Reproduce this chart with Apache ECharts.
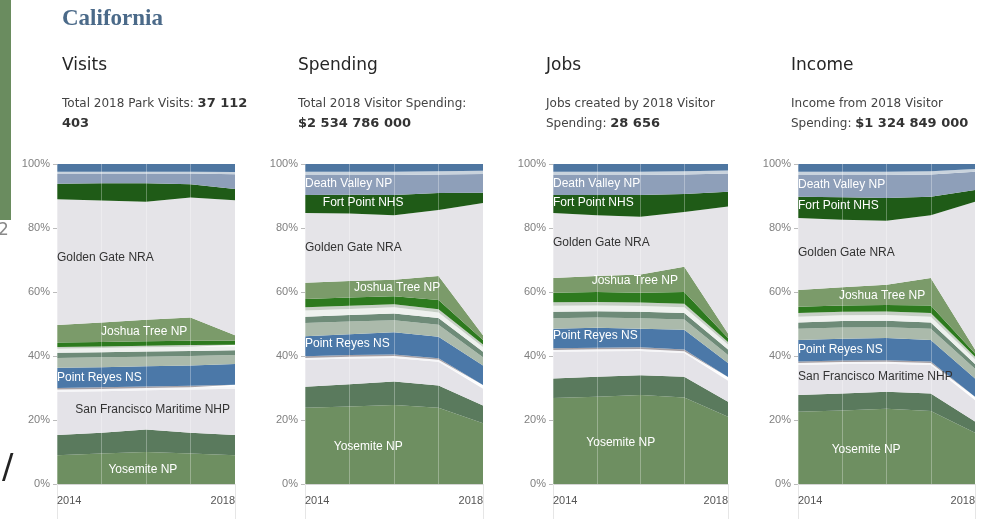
<!DOCTYPE html>
<html><head><meta charset="utf-8">
<script src="https://cdn.jsdelivr.net/npm/echarts@6/dist/echarts.min.js"></script>
<style>html,body{margin:0;padding:0;background:#fff}#c{width:999px;height:519px}</style>
</head><body><div id="c"></div>
<script>
// ---------- DATA ----------
const years = ['2014', '2015', '2016', '2017', '2018'];
const yTickStep = 20;
const parks = ['Yosemite NP', 'Sequoia & Kings Canyon NPs', 'San Francisco Maritime NHP', 'Muir Woods NM',
  'Cabrillo NM', 'Point Reyes NS', 'Redwood NSP', 'Channel Islands NP', 'Pinnacles NP', 'Lassen Volcanic NP',
  'Lava Beds NM', 'Joshua Tree NP', 'Golden Gate NRA', 'Fort Point NHS', 'Death Valley NP',
  'Whiskeytown NRA', 'Other parks'];
// shares (%) per park, per year — order as in `parks`
const visitsShares = [
  [9, 9.5, 10, 9.5, 9], [6.3, 6.5, 7, 6.5, 6.3], [13.5, 13, 12.3, 13.5, 14.5], [0.7, 0.7, 0.7, 0.7, 0.7],
  [0.5, 0.5, 0.5, 0.5, 0.5], [6.3, 6.3, 6.3, 6.3, 6.5], [3.1, 3.1, 3.0, 3.0, 2.8], [1.6, 1.6, 1.6, 1.6, 1.5],
  [1.3, 1.3, 1.3, 1.3, 1.2], [0.5, 0.5, 0.5, 0.5, 0.5], [1.4, 1.4, 1.4, 1.4, 1.3], [5.5, 6.1, 6.7, 7.2, 1.7],
  [39.3, 38.1, 36.9, 37.5, 42.2], [4.8, 5.4, 5.8, 4.2, 3.5], [3.2, 3.0, 3.0, 3.3, 4.6], [0.6, 0.6, 0.6, 0.6, 0.7],
  [2.4, 2.4, 2.4, 2.4, 2.5]
];
const spendingShares = [
  [23.8, 24.2, 24.7, 23.8, 19], [6.6, 7.0, 7.3, 7.0, 5.5], [8.4, 8.0, 7.4, 7.4, 5.3], [0.6, 0.6, 0.6, 0.6, 0.6],
  [0.5, 0.5, 0.5, 0.5, 0.5], [6.3, 6.5, 6.9, 6.7, 6.1], [4.1, 4.0, 3.8, 3.8, 2.6], [2.0, 2.0, 2.1, 2.1, 1.7],
  [1.9, 1.9, 1.9, 1.7, 1.5], [1.0, 1.0, 1.0, 1.0, 0.8], [2.6, 2.6, 2.5, 2.9, 1.4], [5.1, 5.1, 5.1, 7.5, 1.5],
  [21.8, 21.1, 20.2, 20.6, 41.3], [5.6, 5.9, 6.3, 5.3, 3.2], [6.3, 6.2, 6.3, 5.8, 5.9], [1.0, 1.0, 1.0, 1.0, 1.0],
  [2.4, 2.4, 2.4, 2.3, 2.1]
];
const jobsShares = [
  [26.9, 27.3, 27.8, 27, 21], [6.1, 6.2, 6.2, 6.5, 4.7], [8.3, 8.0, 7.6, 7.4, 6.6], [0.6, 0.6, 0.6, 0.6, 0.6],
  [0.5, 0.5, 0.5, 0.5, 0.5], [6.1, 6.2, 5.8, 6.2, 4.4], [3.3, 3.2, 3.3, 3.2, 2.5], [2.0, 2.0, 2.0, 2.0, 1.7],
  [1.9, 1.8, 1.8, 1.8, 1.6], [1.1, 1.1, 1.1, 1.1, 0.8], [3.0, 3.1, 3.1, 3.7, 1.2], [4.6, 5.0, 5.7, 7.9, 1.4],
  [20.3, 19.0, 18.0, 17.1, 39.7], [5.6, 6.3, 6.8, 5.6, 4.6], [6.3, 6.3, 6.3, 6.1, 5.7], [1.0, 1.0, 1.0, 1.0, 1.0],
  [2.4, 2.4, 2.4, 2.3, 2.0]
];
const incomeShares = [
  [22.6, 23, 23.5, 22.8, 16], [5.2, 5.3, 5.3, 5.5, 3.5], [9.4, 9.2, 8.8, 8.9, 6.7], [0.6, 0.6, 0.6, 0.6, 0.6],
  [0.5, 0.5, 0.5, 0.5, 0.5], [6.7, 6.8, 6.9, 6.7, 5.7], [3.5, 3.5, 3.4, 3.5, 3.0], [2.0, 2.0, 2.0, 2.0, 1.5],
  [1.8, 1.8, 1.8, 1.8, 1.5], [1.1, 1.1, 1.1, 1.1, 0.8], [2.0, 2.0, 2.0, 2.4, 1.0], [5.2, 5.7, 6.4, 8.6, 1.2],
  [22.5, 21.1, 20.0, 19.6, 46.2], [6.7, 7.0, 7.1, 5.8, 3.7], [6.8, 7.0, 7.2, 6.9, 5.7], [1.0, 1.0, 1.0, 1.0, 0.8],
  [2.4, 2.4, 2.4, 2.3, 1.6]
];
const panelTitles = ['Visits', 'Spending', 'Jobs', 'Income'];
const panelSubs = [
  '{n|Total 2018 Park Visits: }{b|37 112}\n{b|403}',
  '{n|Total 2018 Visitor Spending:}\n{b|$2 534 786 000}',
  '{n|Jobs created by 2018 Visitor}\n{n|Spending: }{b|28 656}',
  '{n|Income from 2018 Visitor}\n{n|Spending: }{b|$1 324 849 000}'
];

// ---------- STYLE / LAYOUT ----------
const parkColors = ['#6e8f61', '#5a7a5d', '#e4e3e8', '#f6f6f8', '#a7a1a5', '#4b78a8', '#abbaab', '#6e8b78',
  '#eef1ee', '#c6cfc5', '#2d7a1e', '#7b9b6a', '#e5e4e8', '#1f5b17', '#8e9fb9', '#c9d3dd', '#4e76a1'];
const gridPos = [{left: 57, width: 178}, {left: 305, width: 178}, {left: 553, width: 175}, {left: 798, width: 177}];
const textX = [62, 298, 546, 791];
// in-chart labels: [text, x position (year index), y position (%), align, color]
const labelLayout = [
  [['Golden Gate NRA', 0, 70.6, 'left', '#333'], ['Joshua Tree NP', 1.96, 47.6, 'center', '#fff'],
   ['Point Reyes NS', 0, 33.1, 'left', '#fff'], ['San Francisco Maritime NHP', 2.15, 23.1, 'center', '#333'],
   ['Yosemite NP', 1.93, 4.4, 'center', '#fff']],
  [['Death Valley NP', 0, 93.7, 'left', '#fff'], ['Fort Point NHS', 0.4, 87.8, 'left', '#fff'],
   ['Golden Gate NRA', 0, 74, 'left', '#333'], ['Joshua Tree NP', 2.07, 61.2, 'center', '#fff'],
   ['Point Reyes NS', 0, 44, 'left', '#fff'], ['Yosemite NP', 1.42, 11.6, 'center', '#fff']],
  [['Death Valley NP', 0, 93.7, 'left', '#fff'], ['Fort Point NHS', 0, 87.8, 'left', '#fff'],
   ['Golden Gate NRA', 0, 75.3, 'left', '#333'], ['Joshua Tree NP', 1.87, 63.4, 'center', '#fff'],
   ['Point Reyes NS', 0, 46.2, 'left', '#fff'], ['Yosemite NP', 1.55, 12.8, 'center', '#fff']],
  [['Death Valley NP', 0, 93.4, 'left', '#fff'], ['Fort Point NHS', 0, 86.9, 'left', '#fff'],
   ['Golden Gate NRA', 0, 72.2, 'left', '#333'], ['Joshua Tree NP', 1.9, 59, 'center', '#fff'],
   ['Point Reyes NS', 0, 41.9, 'left', '#fff'], ['San Francisco Maritime NHP', 0, 33.4, 'left', '#333'],
   ['Yosemite NP', 1.54, 10.6, 'center', '#fff']]
];

const panelData = [visitsShares, spendingShares, jobsShares, incomeShares];
const chart = echarts.init(document.getElementById('c'));
const grid = [], xAxis = [], yAxis = [], series = [];
panelData.forEach((shares, i) => {
  grid.push({left: gridPos[i].left, width: gridPos[i].width, top: 164, bottom: 35});
  xAxis.push({
    type: 'category', gridIndex: i, data: years, boundaryGap: false, z: 5,
    axisLine: {show: true, lineStyle: {color: '#d4d4d4'}},
    axisTick: {show: true, length: 35, interval: (idx) => idx === 0 || idx === 4, lineStyle: {color: '#e6e6e6'}},
    axisLabel: {interval: 0, formatter: (v, idx) => (idx === 0 || idx === 4) ? v : '',
      alignMinLabel: 'left', alignMaxLabel: 'right', color: '#555', fontSize: 11,
      fontFamily: 'Liberation Sans', margin: 11},
    splitLine: {show: true, lineStyle: {color: 'rgba(255,255,255,0.3)', width: 1}}
  });
  yAxis.push({
    type: 'value', gridIndex: i, min: 0, max: 100, interval: yTickStep,
    axisLine: {show: false},
    axisTick: {show: true, length: 4, lineStyle: {color: '#bbb'}},
    axisLabel: {formatter: '{value}%', color: '#808080', fontSize: 11, fontFamily: 'Liberation Sans', margin: 7},
    splitLine: {show: false}
  });
  shares.forEach((vals, k) => {
    series.push({
      type: 'line', name: parks[k], xAxisIndex: i, yAxisIndex: i, stack: 'p' + i, data: vals,
      symbol: 'none', lineStyle: {width: 0}, itemStyle: {color: parkColors[k]},
      areaStyle: {color: parkColors[k], opacity: 1}, silent: true, animation: false
    });
  });
});
chart.setOption({animation: false, backgroundColor: '#fff', grid, xAxis, yAxis, series});

// ---------- TEXT ----------
const graphic = [
  {type: 'rect', left: 0, top: 0, shape: {width: 11, height: 220}, style: {fill: '#6a8c5f'}},
  {type: 'text', left: -2, top: 222, style: {text: '2', fontSize: 17, fontFamily: 'DejaVu Sans', fill: '#8a8a8a'}},
  {type: 'text', left: 2, top: 452, style: {text: '/', fontSize: 34, fontFamily: 'DejaVu Sans', fill: '#222'}},
  {type: 'text', left: 62, top: 8, style: {text: 'California', fontSize: 23, fontWeight: 'bold',
    fontFamily: 'Liberation Serif', fill: '#4b6a89'}}
];
panelTitles.forEach((t, i) => {
  graphic.push({type: 'text', left: textX[i], top: 57, style: {text: t, fontSize: 17,
    fontFamily: 'DejaVu Sans', fill: '#262626'}});
  graphic.push({type: 'text', left: textX[i], top: 94, style: {text: panelSubs[i], lineHeight: 20,
    rich: {n: {fontSize: 12, fontFamily: 'DejaVu Sans', fill: '#444', lineHeight: 20},
           b: {fontSize: 13, fontWeight: 'bold', fontFamily: 'DejaVu Sans', fill: '#333', lineHeight: 20}}}});
});
labelLayout.forEach((labels, i) => {
  labels.forEach(([txt, xi, yv, align, color]) => {
    const p0 = chart.convertToPixel({gridIndex: i}, [0, yv]);
    const p4 = chart.convertToPixel({gridIndex: i}, [4, yv]);
    const x = p0[0] + (p4[0] - p0[0]) * xi / 4;
    graphic.push({type: 'text', x: x, y: p0[1], z: 100, style: {text: txt, fontSize: 12,
      fontFamily: 'Liberation Sans', fill: color, align: align, verticalAlign: 'middle'}});
  });
});
chart.setOption({graphic});
</script></body></html>
